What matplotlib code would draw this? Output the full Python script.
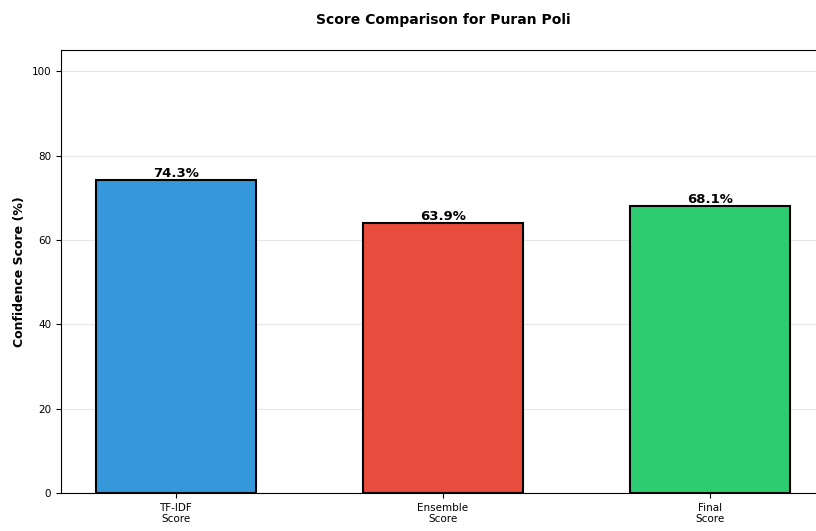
import matplotlib
matplotlib.use('Agg')
import matplotlib.pyplot as plt
import numpy as np

DISH_NAME = 'Puran Poli'
CATEGORIES = ['TF-IDF\nScore', 'Ensemble\nScore', 'Final\nScore']
SCORES = [74.3, 63.9, 68.1]
COLORS = ['#3498db', '#e74c3c', '#2ecc71']


def plot_scores(categories, scores, colors, save_name):
    fig = plt.figure(figsize=(8.16, 5.31), dpi=100)
    # axes run a little past the right edge of the canvas
    ax = fig.add_axes([0.0748, 0.0716, 0.936, 0.834])

    x = np.arange(len(categories))
    bars = ax.bar(x, scores, width=0.6, color=colors, edgecolor='black', linewidth=1.5)

    for bar, score in zip(bars, scores):
        ax.text(bar.get_x() + bar.get_width() / 2, bar.get_height(),
                '{:.1f}%'.format(score), ha='center', va='bottom',
                fontsize=9.5, fontweight='bold')

    ax.set_xticks(x)
    ax.set_xticklabels(categories, fontsize=7.5)
    ax.tick_params(axis='y', labelsize=7.5)
    ax.set_ylim(0, 105)
    ax.set_ylabel('Confidence Score (%)', fontsize=9, fontweight='bold')
    ax.set_title('Score Comparison for {}'.format(DISH_NAME), fontsize=10,
                 fontweight='bold', pad=19)
    ax.grid(axis='y', alpha=0.3)
    ax.set_axisbelow(True)

    fig.savefig(save_name, dpi=100)
    plt.close(fig)


if __name__ == '__main__':
    plot_scores(CATEGORIES, SCORES, COLORS, 'out.png')
